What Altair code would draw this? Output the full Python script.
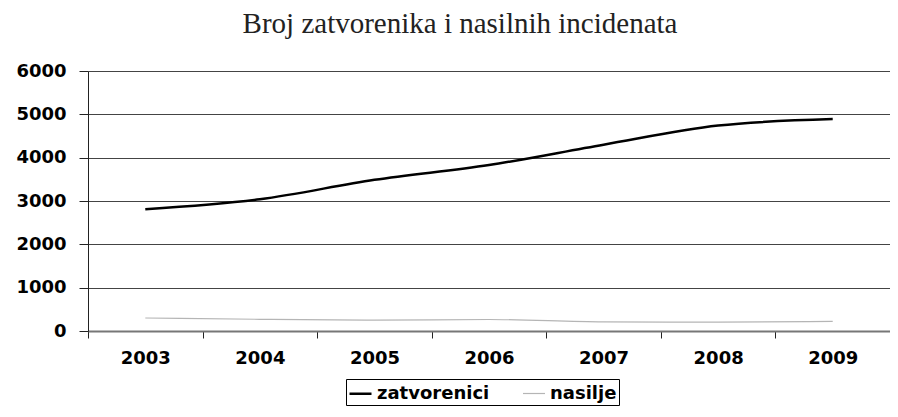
import altair as alt
import pandas as pd

years = ["2003", "2004", "2005", "2006", "2007", "2008", "2009"]
zatvorenici = [2810, 3040, 3490, 3830, 4300, 4740, 4890]
nasilje = [300, 270, 250, 265, 210, 205, 220]
series = ["zatvorenici", "nasilje"]

rows = []
for i, y in enumerate(years):
    rows.append({"godina": y, "serija": series[0], "vrijednost": zatvorenici[i]})
    rows.append({"godina": y, "serija": series[1], "vrijednost": nasilje[i]})
df = pd.DataFrame(rows)

chart = alt.Chart(df).mark_line(interpolate="monotone").encode(
    x=alt.X("godina:N", sort=years, title=None,
            scale=alt.Scale(type="band", paddingInner=0, paddingOuter=0),
            axis=alt.Axis(labelAngle=0, tickBand="extent", tickSize=7,
                          tickColor="#222", domainColor="#777", domainWidth=2,
                          labelFont="DejaVu Sans", labelFontWeight="bold",
                          labelFontSize=18, labelColor="#000", labelPadding=11,
                          grid=False)),
    y=alt.Y("vrijednost:Q", title=None,
            scale=alt.Scale(domain=[0, 6000], nice=False),
            axis=alt.Axis(values=[0, 1000, 2000, 3000, 4000, 5000, 6000],
                          format="d",
                          tickSize=9, tickColor="#222", domainColor="#222",
                          gridColor="#444", gridWidth=1,
                          labelFont="DejaVu Sans", labelFontWeight="bold",
                          labelFontSize=18, labelColor="#000", labelPadding=13)),
    color=alt.Color("serija:N", sort=series,
                    scale=alt.Scale(domain=series, range=["#000000", "#b5b5b5"]),
                    legend=alt.Legend(title=None, orient="none", direction="horizontal",
                                      legendX=258, legendY=308,
                                      symbolType="stroke", symbolSize=484,
                                      labelFont="DejaVu Sans", labelFontWeight="bold",
                                      labelFontSize=18, labelColor="#000",
                                      strokeColor="#000", padding=2,
                                      columnPadding=30, labelOffset=4)),
    strokeWidth=alt.StrokeWidth("serija:N", sort=series,
                                scale=alt.Scale(domain=series, range=[2.5, 1.2]),
                                legend=None),
).properties(
    width=802,
    height=260,
    title=alt.Title("Broj zatvorenika i nasilnih incidenata", font="Liberation Serif",
                    fontSize=29, fontWeight="normal", color="#222",
                    anchor="middle", dx=-29, offset=23),
    autosize=alt.AutoSizeParams(type="none"),
    padding={"left": 80, "top": 63, "right": 0, "bottom": 78},
).configure_view(stroke=None).configure(background="white")

chart.save("out.html", embed_options={"renderer": "svg", "actions": False})
